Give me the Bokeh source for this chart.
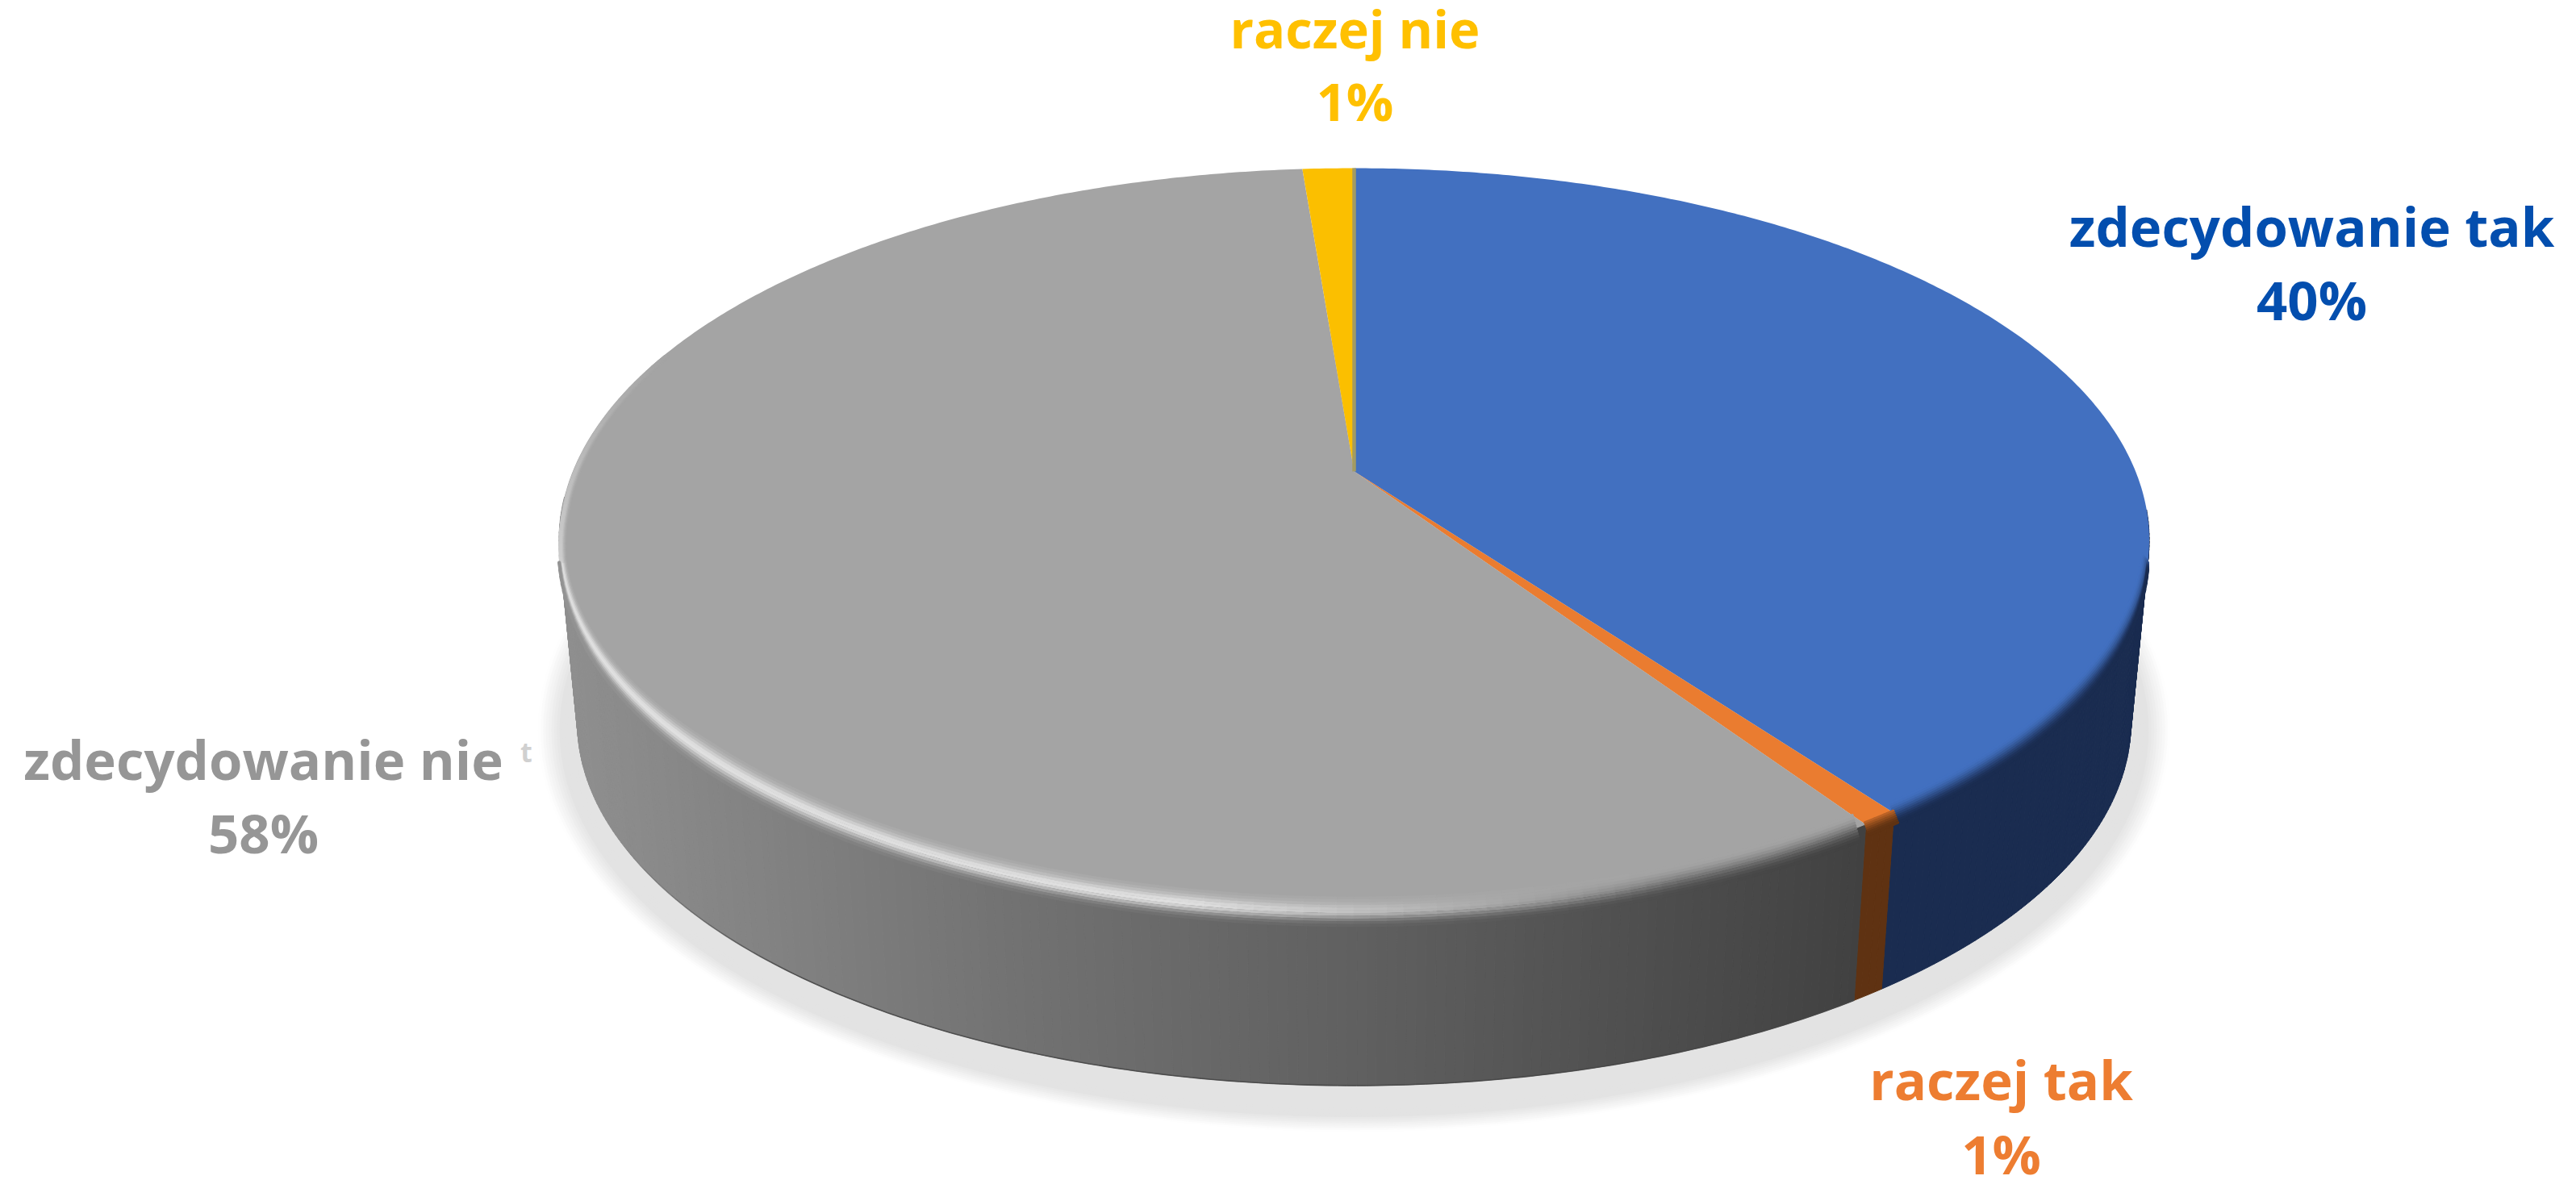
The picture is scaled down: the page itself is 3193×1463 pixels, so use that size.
import math
from bokeh.plotting import figure
from bokeh.embed import file_html
from bokeh.resources import INLINE
from bokeh.core.properties import value

# ---- data (share of answers, clockwise from 12 o'clock)
categories = ["zdecydowanie tak", "raczej tak", "zdecydowanie nie", "raczej nie"]
shares = [40.0, 0.65, 58.1, 1.25]
pct_labels = ["40%", "1%", "58%", "1%"]

# ---- styles
top_colors = ["#4270C0", "#EA7C30", "#A4A4A4", "#FBBF00"]
wall_colors = ["#1A2C50", "#5F3212", None, "#7F6000"]
text_colors = ["#034EAE", "#ED7D31", "#969696", "#FFC000"]

# ---- layout (page pixels)
label_x = [2865, 2480, 326, 1679]
name_y = [279, 1337, 940, 34]
pct_y = [370, 1429, 1031, 124]
font_px = ["67px", "67px", "67px", "65px"]

CX, CY, R, H, K = 1678.0, 584.0, 968.6, 445.3, 0.1844
Q, CY2 = 0.977, 812.0


def top(theta, rho=1.0, dy=0.0):
    t = math.radians(theta)
    s, c = rho * math.sin(t), rho * math.cos(t)
    w = 1 + K * c
    return CX + R * s / w, CY - H * c / w + dy


def bottom(theta):
    t = math.radians(theta)
    s, c = math.sin(t), math.cos(t)
    w = 1 + K * c
    return CX + Q * R * s / w, CY2 - Q * H * c / w


def hexc(v):
    v = [max(0, min(255, int(round(x)))) for x in v]
    return "#%02x%02x%02x" % tuple(v)


def rgb(h):
    return [int(h[i:i + 2], 16) for i in (1, 3, 5)]


def mix(a, b, t):
    return [a[i] + (b[i] - a[i]) * t for i in range(3)]


def wall_grey(x):
    stops = [(690, 0x90), (1000, 0x80), (1300, 0x70), (1680, 0x60), (2000, 0x50), (2320, 0x40)]
    for (x0, g0), (x1, g1) in zip(stops, stops[1:]):
        if x <= x1:
            g = g0 + (g1 - g0) * max(0, x - x0) / (x1 - x0)
            return [g, g, g]
    return [0x40] * 3


def frange(a, b, step):
    n = max(2, int(math.ceil((b - a) / step)) + 1)
    return [a + (b - a) * i / (n - 1) for i in range(n)]


starts, ends = [], []
acc = 0.0
total = sum(shares)
for v in shares:
    starts.append(acc * 360 / total)
    acc += v
    ends.append(acc * 360 / total)

p = figure(width=3193, height=1463, x_range=(0, 3193), y_range=(1463, 0),
           output_backend="svg", toolbar_location=None, min_border=0,
           outline_line_color=None, background_fill_color="white")
p.axis.visible = False
p.grid.visible = False

# ---- soft shadow under the wall
ell = frange(0, 360, 2)
STEPS = 14
for i in range(STEPS):
    u = i / (STEPS - 1)                     # 0 outermost .. 1 innermost
    a = 1012 - 44 * u
    b = 498 - 30 * u
    g = 254 - (254 - 227) * min(1.0, u * 1.6)
    xs = [CX + a * math.sin(math.radians(t)) for t in ell]
    ys = [905 - b * math.cos(math.radians(t)) for t in ell]
    p.patch(xs, ys, fill_color=hexc([g, g, g]), line_color=None)

# ---- walls, strip by strip
sx, sy, sc = [], [], []
for i in range(3):
    th = frange(max(starts[i], 96), min(ends[i], 266), 0.6)
    for t0, t1 in zip(th, th[1:]):
        a0, a1, b1, b0 = top(t0), top(t1), bottom(t1), bottom(t0)
        sx.append([a0[0], a1[0], b1[0], b0[0]])
        sy.append([a0[1], a1[1], b1[1], b0[1]])
        sc.append(hexc(wall_grey((b0[0] + b1[0]) / 2)) if wall_colors[i] is None else wall_colors[i])
p.patches(sx, sy, fill_color=sc, line_color=sc, line_width=1)

# thin dark lower edge of the grey wall
g_th = frange(starts[2], min(ends[2], 266), 0.6)
ex, ey, ec, ea = [], [], [], []
for t0, t1 in zip(g_th, g_th[1:]):
    b0, b1 = bottom(t0), bottom(t1)
    ex.append([b0[0], b1[0]])
    ey.append([b0[1], b1[1]])
    ec.append("#454545")
    ea.append(max(0.0, min(0.85, (240 - t0) / 25)))
p.multi_line(ex, ey, line_color=ec, line_alpha=ea, line_width=1.6)

# ---- top surface
for i in range(len(shares)):
    th = frange(starts[i], ends[i], 0.5)
    pts = [top(t) for t in th]
    p.patch([CX] + [q[0] for q in pts], [CY] + [q[1] for q in pts],
            fill_color=top_colors[i], line_color=None)

# seam between the yellow and blue slices
p.line([CX, top(0)[0]], [CY, top(0)[1]], line_color="#A39B62", line_width=4.5)

# ---- soft bevel on the front rim
BANDS = 11
rx, ry, rc = [], [], []
for b_i in range(BANDS):
    t = b_i / (BANDS - 1)
    off = 2 * t - 1
    for s_i in range(3):
        a0 = max(starts[s_i] + (0.8 if s_i == 2 else 0), 104)
        a1 = min(ends[s_i], 290 if s_i == 2 else 400)
        if a1 <= a0:
            continue
        if s_i == 1 and off < -0.2:
            continue
        th = frange(a0, a1, 1.0)
        surf = rgb(top_colors[s_i])
        for t0, t1 in zip(th, th[1:]):
            mid = (t0 + t1) / 2
            if mid > 256 and off > 0:
                continue
            e = 0.5 - 0.5 * math.cos(math.pi * t)
            if s_i == 2:
                wall = wall_grey(top(mid)[0])
                h = max(0.0, min(1.0, (mid - 160) / 30))
            else:
                wall = rgb(wall_colors[s_i])
                h = 0.0
            taper_y = max(0.0, min(1.0, (256 - mid) / 30))
            taper_r = max(0.0, min(1.0, (min(mid, 256) - 104) / 20, (262 - mid) / 20)) if off > 0 else 1.0
            inset = 0.0
            if mid > 256:
                # beyond the widest point only the pale edge on the surface is left
                e = 0.0
                h *= max(0.0, (290 - mid) / 34) * 0.7
                inset = 0.0025 * min(1.0, (mid - 256) / 8)
            col = mix(surf, wall, e)
            bump = math.exp(-((off + 0.05) / 0.6) ** 2)
            col = mix(col, [228, 228, 228], h * bump * 0.95)
            dy = (13 if s_i == 2 else 9) * off * taper_y
            rho = 1 + 0.006 * off * taper_r - inset
            q0 = top(t0, rho, dy)
            q1 = top(t1, rho, dy)
            rx.append([q0[0], q1[0]])
            ry.append([q0[1], q1[1]])
            rc.append(hexc(col))
p.multi_line(rx, ry, line_color=rc, line_width=3.6, line_cap="round")

# ---- labels
for i in range(len(categories)):
    for y, txt in ((name_y[i], categories[i]), (pct_y[i], pct_labels[i])):
        p.text([label_x[i]], [y], text=[txt], text_color=text_colors[i],
               text_font=value("Open Sans"), text_font_style="bold",
               text_font_size=font_px[i], text_align="center", text_baseline="alphabetic")
# faint clipped letter left over beside the grey label
p.text([652], [931], text=["t"], text_color="#D0D0D0",
       text_font=value("Open Sans"), text_font_style="bold",
       text_font_size="34px", text_align="center", text_baseline="alphabetic")

open("out.html", "w").write(file_html(p, INLINE))
